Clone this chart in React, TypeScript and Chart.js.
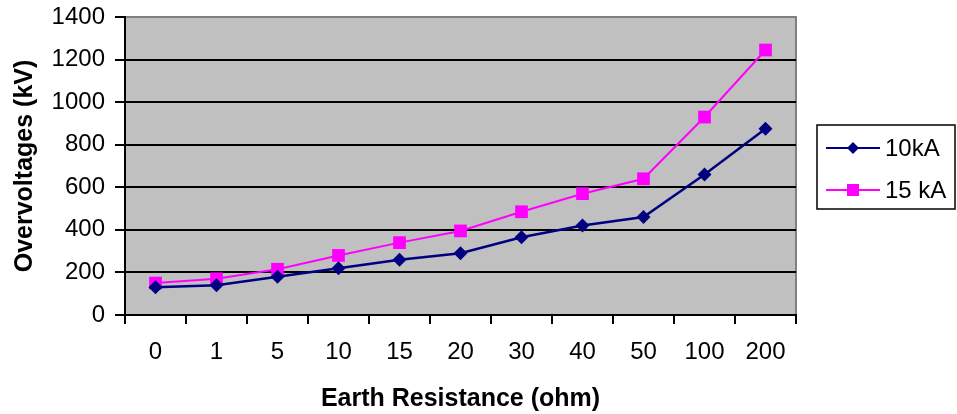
import React, { useEffect, useRef } from "react";
import { Chart, registerables } from "chart.js";

Chart.register(...registerables);

const categories = ["0", "1", "5", "10", "15", "20", "30", "40", "50", "100", "200"];
const series10kA = [130, 140, 180, 220, 260, 290, 365, 420, 460, 660, 875];
const series15kA = [150, 170, 215, 280, 340, 395, 485, 570, 640, 930, 1245];
const seriesNames = ["10kA", "15 kA"];
const seriesColors = ["#000080", "#FF00FF"];
const yTitle = "Overvoltages (kV)";
const xTitle = "Earth Resistance (ohm)";

const FONT = "'Liberation Sans', Arial, sans-serif";

export default function App() {
  const ref = useRef<HTMLCanvasElement | null>(null);
  useEffect(() => {
    if (!ref.current) return;
    const bgPlugin = {
      id: "plotBg",
      beforeDraw(chart: any) {
        const { ctx, chartArea: a } = chart;
        ctx.save();
        ctx.fillStyle = "#C0C0C0";
        ctx.fillRect(a.left, a.top, a.right - a.left, a.bottom - a.top);
        ctx.strokeStyle = "#808080";
        ctx.lineWidth = 2;
        ctx.strokeRect(a.left, a.top, a.right - a.left, a.bottom - a.top);
        ctx.restore();
      },
      afterDraw(chart: any) {
        const { ctx } = chart;
        const x0 = 817, y0 = 125, w = 138, h = 84;
        ctx.save();
        ctx.fillStyle = "#FFFFFF";
        ctx.fillRect(x0, y0, w, h);
        ctx.strokeStyle = "#000000";
        ctx.lineWidth = 1.5;
        ctx.strokeRect(x0, y0, w, h);
        ctx.font = `24px ${FONT}`;
        ctx.textBaseline = "middle";
        ctx.textAlign = "left";
        const rows = [148, 190];
        rows.forEach((yy, i) => {
          ctx.strokeStyle = seriesColors[i];
          ctx.lineWidth = 2;
          ctx.beginPath();
          ctx.moveTo(826, yy);
          ctx.lineTo(880, yy);
          ctx.stroke();
          ctx.fillStyle = seriesColors[i];
          ctx.beginPath();
          if (i === 0) {
            ctx.moveTo(853, yy - 6);
            ctx.lineTo(859, yy);
            ctx.lineTo(853, yy + 6);
            ctx.lineTo(847, yy);
            ctx.closePath();
          } else {
            ctx.rect(847, yy - 6, 12, 12);
          }
          ctx.fill();
          ctx.fillStyle = "#000000";
          ctx.fillText(seriesNames[i], 885, yy + 1);
        });
        ctx.restore();
      },
    };
    const chart = new Chart(ref.current, {
      type: "line",
      data: {
        labels: categories,
        datasets: [
          {
            label: seriesNames[0],
            data: series10kA,
            borderColor: seriesColors[0],
            backgroundColor: seriesColors[0],
            borderWidth: 2.5,
            pointStyle: "rectRot",
            pointRadius: 7,
            pointBorderWidth: 0,
            tension: 0,
          },
          {
            label: seriesNames[1],
            data: series15kA,
            borderColor: seriesColors[1],
            backgroundColor: seriesColors[1],
            borderWidth: 2,
            pointStyle: "rect",
            pointRadius: 9,
            pointBorderWidth: 0,
            tension: 0,
          },
        ],
      },
      plugins: [bgPlugin],
      options: {
        animation: false,
        responsive: false,
        devicePixelRatio: 1,
        layout: { padding: { top: 17, right: 161, left: 0, bottom: 0 } },
        plugins: { legend: { display: false }, tooltip: { enabled: false } },
        scales: {
          x: {
            offset: true,
            afterFit(scale: any) {
              scale.height = 99;
            },
            border: { display: true, color: "#000000", width: 2 },
            grid: {
              offset: true,
              drawOnChartArea: false,
              drawTicks: true,
              tickLength: 9,
              color: "#000000",
              lineWidth: 2,
            },
            ticks: {
              color: "#000000",
              font: { family: FONT, size: 24, lineHeight: 1 },
              padding: 16,
              maxRotation: 0,
            },
            title: {
              display: true,
              text: xTitle,
              color: "#000000",
              font: { family: FONT, size: 25, weight: "bold" },
              padding: { top: 6, bottom: 0 },
            },
          },
          y: {
            min: 0,
            max: 1400,
            afterFit(scale: any) {
              scale.width = 125;
            },
            border: { display: true, color: "#000000", width: 2 },
            grid: {
              color: (c: any) => (c.tick && c.tick.value === 1400 ? "#808080" : "#000000"),
              lineWidth: 2,
              drawTicks: true,
              tickLength: 10,
              tickColor: "#000000",
            },
            ticks: {
              stepSize: 200,
              color: "#000000",
              font: { family: FONT, size: 24, lineHeight: 0.5 },
              padding: 10,
              callback: (v: any) => String(v),
            },
            title: {
              display: true,
              text: yTitle,
              color: "#000000",
              font: { family: FONT, size: 25, weight: "bold" },
              padding: { top: 10, bottom: 0 },
            },
          },
        },
      },
    } as any);
    return () => chart.destroy();
  }, []);
  return (
    <div style={{ position: "absolute", left: 0, top: 0, width: 957, height: 414, background: "#fff" }}>
      <canvas ref={ref} width={957} height={414} style={{ width: 957, height: 414 }} />
    </div>
  );
}
